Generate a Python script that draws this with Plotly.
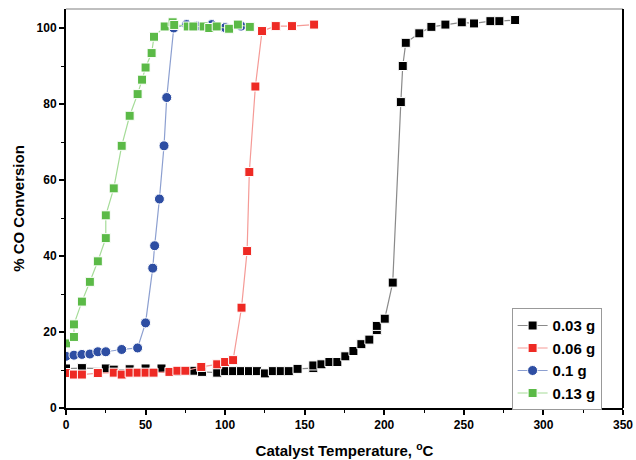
import plotly.graph_objects as go

# 0.03 g
x_003 = [0, 10, 25, 30, 40, 50, 60, 70, 80.5, 85.5, 95, 100, 105, 110, 115, 120, 125, 130, 135, 140, 145.5,
         155.4, 155.4, 160.5, 165.5, 170.5, 175.5, 180.6, 185.6, 190.6, 195.3, 195.3, 200.3, 205.3,
         210.4, 211.6, 213.5, 222, 229.6, 238.4, 248.7, 256.4, 266.7, 272.3, 282.2]
y_003 = [10.4, 10.5, 10.4, 10.1, 10.2, 10.4, 10.4, 9.6, 9.8, 9.5, 9.3, 9.7, 9.7, 9.7, 9.7, 9.7, 9.1, 9.7, 9.7, 9.7, 10.3,
         10.5, 11.2, 11.5, 12.1, 12.1, 13.6, 15.0, 16.8, 18.0, 20.5, 21.6, 23.5, 33.0,
         80.5, 90.0, 96.1, 98.6, 100.3, 100.9, 101.5, 101.2, 101.8, 101.8, 102.1]

# 0.06 g
x_006 = [0, 5, 10, 20, 30, 35, 40, 45, 50, 55, 65, 70, 75, 85, 95, 100, 105, 110.3, 113.8, 115.2, 119, 123.2,
         131.8, 142, 155.9]
y_006 = [9.2, 8.8, 8.8, 9.2, 9.3, 8.8, 9.3, 9.3, 9.3, 9.3, 9.5, 9.8, 9.8, 10.8, 11.5, 12.1, 12.6, 26.4, 41.3, 62.1,
         84.6, 99.2, 100.5, 100.5, 100.9]

# 0.1 g
x_01 = [0, 5, 10, 15, 20, 25, 35, 45, 50, 54.5, 55.7, 58.7, 61.6, 63.3, 67.7, 75.8, 82, 91.6, 100, 110]
y_01 = [13.6, 13.9, 14.1, 14.2, 14.8, 14.8, 15.4, 15.8, 22.4, 36.8, 42.7, 55.0, 69.0, 81.7, 100.0, 100.9, 100.5,
        100.9, 100.1, 100.5]

# 0.13 g
x_013 = [0, 5, 5, 10, 15, 20, 25, 25, 30, 35, 40, 45, 47.8, 50, 53.8, 55.3, 62, 67, 68, 76.5, 80, 86.5, 90,
         94.7, 102.5, 108, 115.5]
y_013 = [17.0, 18.7, 22.0, 28.0, 33.2, 38.6, 44.7, 50.7, 57.8, 69.0, 76.9, 82.6, 86.4, 89.6, 93.4, 97.7, 100.4,
         101.5, 100.8, 100.4, 100.4, 100.4, 100.0, 100.4, 99.8, 100.9, 100.3]

series = [
    ("0.03 g", x_003, y_003, "#000000", "#8a8a8a", "square"),
    ("0.06 g", x_006, y_006, "#ee2a24", "#f59a96", "square"),
    ("0.1 g", x_01, y_01, "#2e4ea3", "#8c9fd0", "circle"),
    ("0.13 g", x_013, y_013, "#5bba47", "#a5dc98", "square"),
]

fig = go.Figure()
for name, xs, ys, mc, lc, sym in series:
    fig.add_trace(go.Scatter(
        x=xs, y=ys, name=name, mode="lines+markers",
        line=dict(color=lc, width=1.2),
        marker=dict(symbol=sym, size=10 if sym == "circle" else 9, color=mc,
                    line=dict(color="white", width=1)),
    ))

font_family = "Liberation Sans, Arial, sans-serif"
fig.update_layout(
    width=636, height=460,
    margin=dict(l=66, r=13, t=9, b=52, autoexpand=False),
    paper_bgcolor="white", plot_bgcolor="white",
    font=dict(family=font_family, color="black"),
    showlegend=True,
    legend=dict(x=0.80, y=0.25, xanchor="left", yanchor="top",
                bordercolor="#999999", borderwidth=1, bgcolor="white",
                font=dict(size=15, family=font_family, weight="bold"),
                itemwidth=30, tracegroupgap=0, traceorder="normal"),
    xaxis=dict(range=[0, 350], tickvals=[0, 50, 100, 150, 200, 250, 300, 350],
               automargin=False,
               ticks="outside", ticklen=5, tickwidth=1.5, tickcolor="black",
               minor=dict(dtick=25, ticks="outside", ticklen=3, tickcolor="black", tickwidth=1.2),
               showgrid=False, zeroline=False, showline=True, linecolor="black", linewidth=2,
               tickfont=dict(size=12, weight="bold"),
               title=dict(text="Catalyst Temperature, <sup>o</sup>C", font=dict(size=15, weight="bold"), standoff=14)),
    yaxis=dict(range=[0, 105], tickvals=[0, 20, 40, 60, 80, 100],
               automargin=False,
               ticks="outside", ticklen=5, tickwidth=1.5, tickcolor="black",
               minor=dict(dtick=10, ticks="outside", ticklen=3, tickcolor="black", tickwidth=1.2),
               showgrid=False, zeroline=False, showline=True, linecolor="black", linewidth=2,
               tickfont=dict(size=12, weight="bold"),
               title=dict(text="% CO Conversion", font=dict(size=15, weight="bold"), standoff=8)),
    shapes=[
        dict(type="line", xref="paper", yref="paper", x0=0, x1=1, y0=1, y1=1,
             line=dict(color="#aaaaaa", width=1.5)),
        dict(type="line", xref="paper", yref="paper", x0=1, x1=1, y0=0, y1=1,
             line=dict(color="black", width=2)),
    ],
)

fig.write_html("out.html", config={"displayModeBar": False},
               post_script="document.body.style.margin='0';document.body.style.overflow='hidden';")
